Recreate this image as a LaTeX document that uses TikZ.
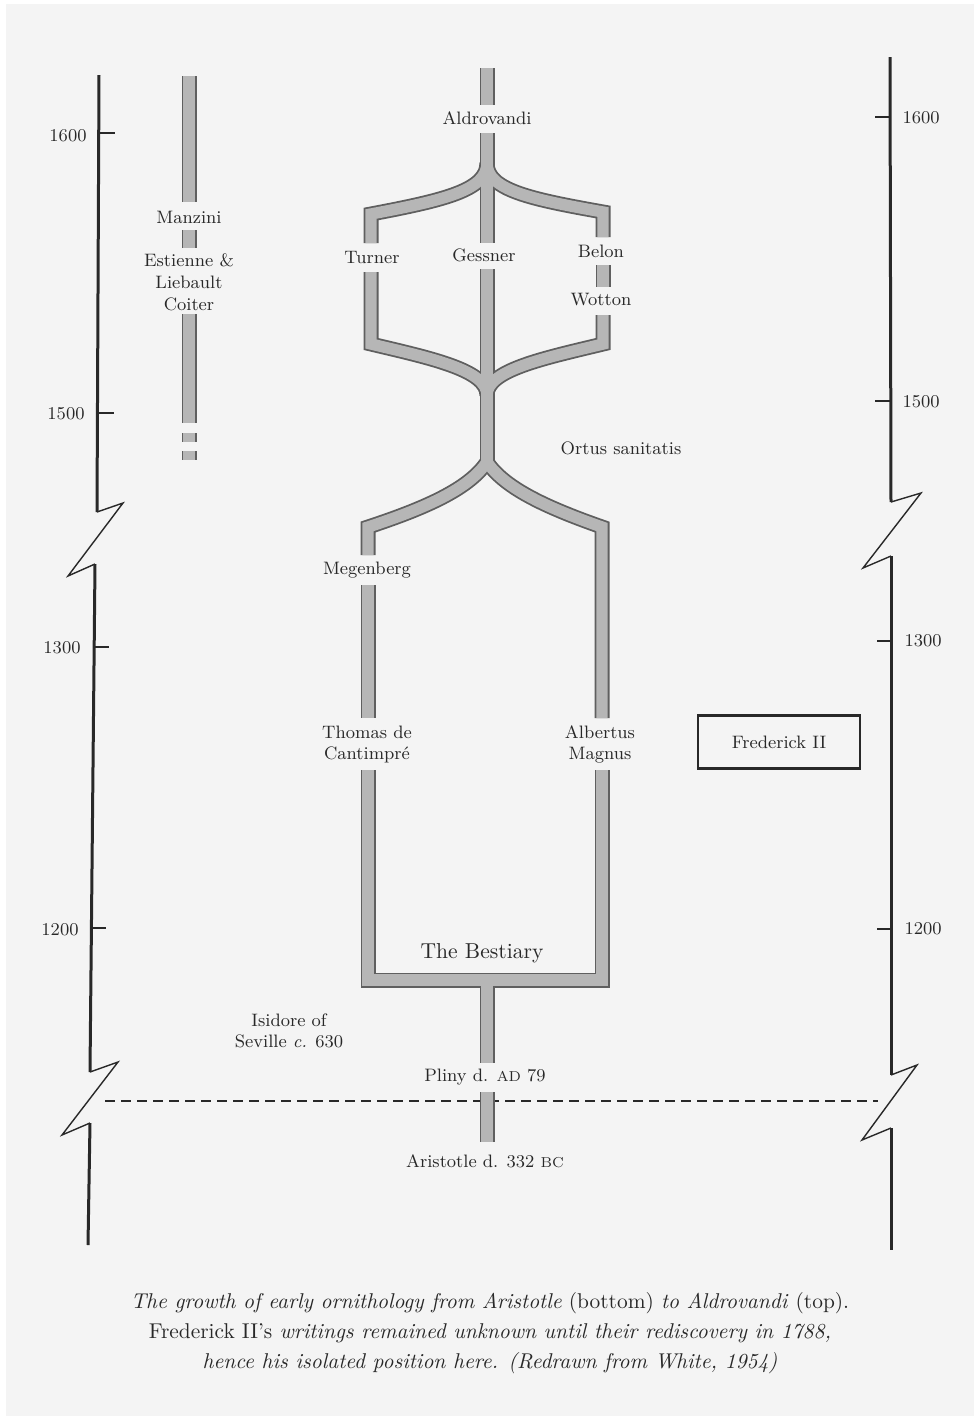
\documentclass[tikz,border=0pt]{standalone}
\usepackage{fontspec}
\definecolor{paper}{RGB}{244,244,244}
\definecolor{ink}{RGB}{40,40,40}
\definecolor{bandedge}{RGB}{95,95,95}
\definecolor{bandfill}{RGB}{182,182,182}
\tikzset{
  lbl/.style={font=\fontsize{9}{10.5}\selectfont, text=ink, inner sep=1pt, align=center},
  yr/.style={font=\fontsize{9}{10.5}\selectfont, text=ink, inner sep=1pt},
  axis/.style={draw=ink, line width=1.5pt, line join=miter},
  zig/.style={draw=ink, line width=0.7pt, line join=miter},
  tick/.style={draw=ink, line width=0.7pt},
  bandout/.style={draw=bandedge, line width=7.5pt, line join=miter, line cap=butt},
  bandin/.style={draw=bandfill, line width=5.7pt, line join=miter, line cap=butt},
}
\begin{document}
\begin{tikzpicture}[x=0.5pt,y=-0.5pt]
\useasboundingbox (0,0) rectangle (979,1421);
\fill[white] (0,0) rectangle (979,1421);
\fill[paper] (6,4) rectangle (974,1416);

% ---------- axes ----------
% left axis
\draw[axis] (99,75) -- (97,512);
\draw[zig] (97,512) -- (123,503) -- (68,576) -- (95,564);
\draw[axis] (95,564) -- (90,1072);
\draw[zig] (90,1072) -- (118,1062) -- (62,1135) -- (90,1123);
\draw[axis] (90,1123) -- (88,1245);
\draw[tick] (99,133) -- (115,133);
\draw[tick] (98,413) -- (114,413);
\draw[tick] (94,647) -- (109,647);
\draw[tick] (92,928) -- (106,928);
\node[yr] (l1600) at (68,136) {1600};
\node[yr] (l1500) at (66,414) {1500};
\node[yr] (l1300) at (62,648) {1300};
\node[yr] (l1200) at (60,930) {1200};

% right axis
\draw[axis] (890,57) -- (891,502);
\draw[zig] (891,502) -- (921,493) -- (863,568) -- (891,556);
\draw[axis] (891,556) -- (891,1075);
\draw[zig] (891,1075) -- (917,1065) -- (862,1140) -- (891,1128);
\draw[axis] (891,1128) -- (891,1250);
\draw[tick] (875,117) -- (890,117);
\draw[tick] (875,401) -- (891,401);
\draw[tick] (877,641) -- (891,641);
\draw[tick] (877,929) -- (891,929);
\node[yr] (r1600) at (921,118) {1600};
\node[yr] (r1500) at (921,402) {1500};
\node[yr] (r1300) at (923,641) {1300};
\node[yr] (r1200) at (923,929) {1200};

% dashed boundary
\draw[ink, line width=1.3pt, dash pattern=on 5pt off 3pt] (105,1101) -- (878,1101);

% ---------- bands ----------
\coordinate (J1) at (487,163);
\coordinate (J2) at (487,395);
\coordinate (J3) at (487,462);
\foreach \s in {bandout,bandin}{
  % Manzini column
  \draw[\s] (189,76) -- (189,202);
  \draw[\s] (189,230) -- (189,248);
  \draw[\s] (189,314) -- (189,423);
  \draw[\s] (189,433) -- (189,442);
  \draw[\s] (189,451) -- (189,460);
  % trunk top
  \draw[\s] (487,68) -- (487,105);
  \draw[\s] (487,133) -- (J1);
  % upper branches
  \draw[\s] (J1) .. controls (487,190) and (445,200) .. (371,214) -- (371,243);
  \draw[\s] (J1) .. controls (487,190) and (530,199) .. (603,212) -- (603,237);
  \draw[\s] (J1) -- (487,243);
  \draw[\s] (603,265) -- (603,287);
  \draw[\s] (371,272) -- (371,344) .. controls (430,358) and (487,370) .. (J2);
  \draw[\s] (603,315) -- (603,344) .. controls (545,358) and (487,370) .. (J2);
  \draw[\s] (487,269) -- (J2);
  % middle trunk
  \draw[\s] (487,370) -- (J3);
  % lower branches
  \draw[\s] (J3) .. controls (470,487) and (432,506) .. (368,527) -- (368,555);
  \draw[\s] (J3) .. controls (504,487) and (542,506) .. (602,527) -- (602,718);
  \draw[\s] (368,585) -- (368,718);
  \draw[\s] (368,770) -- (368,980) -- (602,980) -- (602,770);
  % bottom trunk
  \draw[\s] (487,980) -- (487,1063);
  \draw[\s] (487,1092) -- (487,1142);
}

% ---------- labels ----------
\node[lbl] (ald) at (487,118) {Aldrovandi};
\node[lbl] (turner) at (372,257) {Turner};
\node[lbl] (gessner) at (484,255) {Gessner};
\node[lbl] (belon) at (601,251) {Belon};
\node[lbl] (wotton) at (601,300) {Wotton};
\node[lbl] (ortus) at (621,448) {Ortus sanitatis};
\node[lbl] (megen) at (367,570) {Megenberg};
\node[lbl] (thomas) at (367,744) {Thomas de\\Cantimpré};
\node[lbl] (albert) at (600,744) {Albertus\\Magnus};
\node[lbl, draw=ink, line width=1.2pt, minimum width=81pt, minimum height=26.5pt] (fred) at (779,742) {Frederick II};
\node[lbl, font=\fontsize{10.8}{12}\selectfont] (best) at (482,953) {The Bestiary};
\node[lbl] (isid) at (289,1031) {Isidore of\\Seville \textit{c.} 630};
\node[lbl] (pliny) at (485,1077) {Pliny d. {\fontsize{7.2}{8}\selectfont AD} 79};
\node[lbl] (arist) at (485,1161) {Aristotle d. 332 {\fontsize{7.2}{8}\selectfont BC}};
\node[lbl] (manz) at (189,217) {Manzini};
\node[lbl, font=\fontsize{9}{11}\selectfont] (estienne) at (189,282) {Estienne \&\\Liebault\\Coiter};

% ---------- caption ----------
\node[text=ink, align=center, font=\fontsize{10.7}{15}\selectfont, inner sep=0pt] (cap) at (490,1333)
 {\textit{The growth of early ornithology from Aristotle} (bottom) \textit{to Aldrovandi} (top).\\
  Frederick II's \textit{writings remained unknown until their rediscovery in 1788,}\\
  \textit{hence his isolated position here. (Redrawn from White, 1954)}};
\end{tikzpicture}
\end{document}
